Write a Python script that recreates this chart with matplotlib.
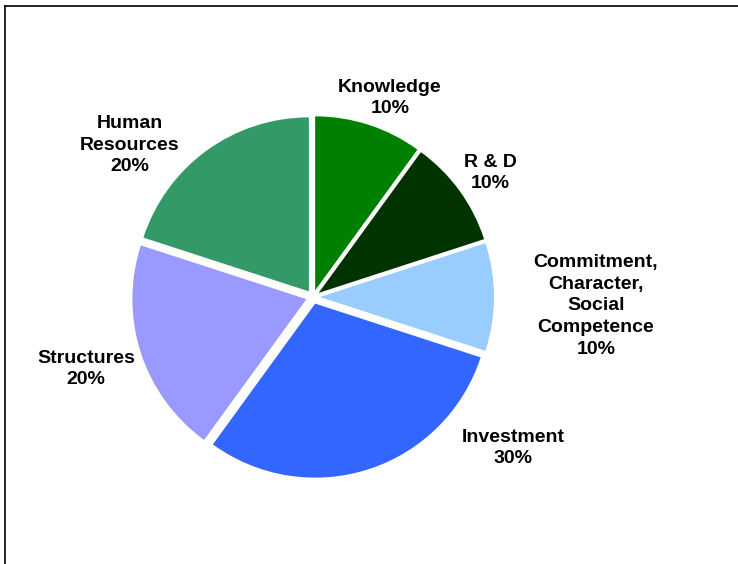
import matplotlib.pyplot as plt
from matplotlib.lines import Line2D

# data
labels = ["Knowledge", "R & D", "Commitment,\nCharacter,\nSocial\nCompetence",
          "Investment", "Structures", "Human\nResources"]
shares = [10, 10, 10, 30, 20, 20]
colors = ["#008000", "#003300", "#99CCFF", "#3366FF", "#9999FF", "#339966"]

# label centres in pixels (x from left, y from top), pie centre and radius
label_px = [(390, 98), (490, 173), (596, 306), (513, 448), (86, 369), (130, 145)]
cx, cy, R = 313, 297, 174

plt.rcParams['font.family'] = ['Liberation Sans', 'DejaVu Sans']

fig = plt.figure(figsize=(7.38, 5.64), dpi=100)
W, H = 738, 564
half = 1.2 * R
ax = fig.add_axes([(cx - half) / W, (H - cy - half) / H, 2 * half / W, 2 * half / H])
ax.pie(shares, colors=colors, startangle=90, counterclock=False,
       explode=[0.04] * len(shares), radius=1.0,
       wedgeprops=dict(linewidth=0))
ax.set_xlim(-1.2, 1.2)
ax.set_ylim(-1.2, 1.2)
ax.set_aspect('equal')
ax.axis('off')

for lab, s, (px, py) in zip(labels, shares, label_px):
    x = (px - cx) / R
    y = (cy - py) / R
    ax.text(x, y, f"{lab}\n{s}%", ha='center', va='center', fontsize=14,
            fontweight='bold', linespacing=1.38, color='black')

# frame lines at top and left
fig.add_artist(Line2D([5 / W, 1], [1 - 6 / H, 1 - 6 / H], color='black', lw=1.2,
                      transform=fig.transFigure))
fig.add_artist(Line2D([5 / W, 5 / W], [0, 1 - 6 / H], color='black', lw=1.2,
                      transform=fig.transFigure))

fig.savefig("out.png", dpi=100, facecolor='white')
